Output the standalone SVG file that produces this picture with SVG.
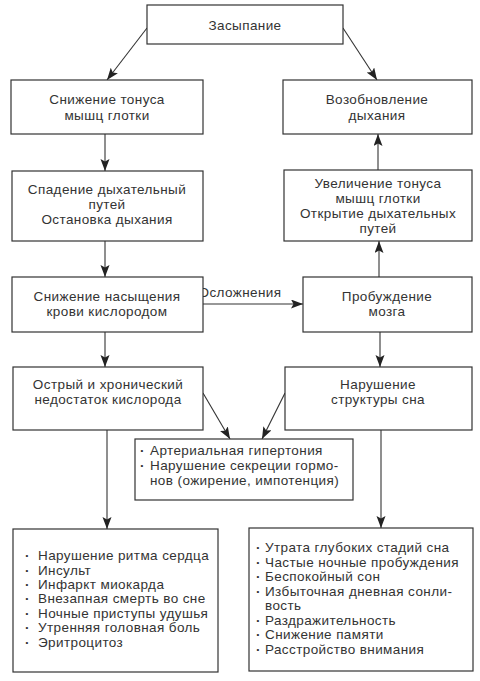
<svg xmlns="http://www.w3.org/2000/svg" width="480" height="681" viewBox="0 0 480 681">
<style>
.box{fill:#fff;stroke:#333;stroke-width:1.2}
.t{font-family:"Liberation Sans",Arial,sans-serif;font-size:13.5px;letter-spacing:0.4px;fill:#333}
.b{font-weight:bold}
.c{text-anchor:middle}
.ln{stroke:#333;stroke-width:1.1;fill:none;marker-end:url(#ah)}
</style>
<defs>
<marker id="ah" markerUnits="userSpaceOnUse" markerWidth="13" markerHeight="10" refX="12" refY="4.5" orient="auto">
<path d="M0,0 L12,4.5 L0,9 L2.5,4.5 z" fill="#222"/>
</marker>
</defs>
<rect width="480" height="681" fill="#fff"/>
<g id="connectors">
<line class="ln" x1="147" y1="28" x2="107" y2="80"/>
<line class="ln" x1="343" y1="28" x2="377" y2="80"/>
<line class="ln" x1="105" y1="134" x2="105" y2="171"/>
<line class="ln" x1="378" y1="170" x2="378" y2="134"/>
<line class="ln" x1="105" y1="241" x2="105" y2="277"/>
<line class="ln" x1="203" y1="304" x2="303" y2="304"/>
<line class="ln" x1="379" y1="277" x2="379" y2="241"/>
<line class="ln" x1="105" y1="332" x2="105" y2="367"/>
<line class="ln" x1="380" y1="332" x2="380" y2="367"/>
<line class="ln" x1="203" y1="393" x2="230" y2="439"/>
<line class="ln" x1="285" y1="393" x2="262" y2="439"/>
<line class="ln" x1="107" y1="430" x2="107" y2="529"/>
<line class="ln" x1="381" y1="430" x2="381" y2="528"/>
<text class="t c" x="240" y="297">Осложнения</text>
</g>
<g id="n1"><rect class="box" x="147" y="5" width="196" height="39"/><text class="t c" x="245" y="30">Засыпание</text></g>
<g id="n2"><rect class="box" x="11" y="80" width="192" height="54"/><text class="t c" x="107" y="104">Снижение тонуса</text><text class="t c" x="107" y="120">мышц глотки</text></g>
<g id="n3"><rect class="box" x="283" y="80" width="189" height="54"/><text class="t c" x="377" y="104">Возобновление</text><text class="t c" x="377" y="120">дыхания</text></g>
<g id="n4"><rect class="box" x="12" y="171" width="191" height="70"/><text class="t c" x="107" y="194">Спадение дыхательный</text><text class="t c" x="107" y="209">путей</text><text class="t c" x="107" y="224">Остановка дыхания</text></g>
<g id="n5"><rect class="box" x="284" y="170" width="188" height="71"/><text class="t c" x="378" y="188">Увеличение тонуса</text><text class="t c" x="378" y="203">мышц глотки</text><text class="t c" x="378" y="218">Открытие дыхательных</text><text class="t c" x="378" y="233">путей</text></g>
<g id="n6"><rect class="box" x="12" y="277" width="191" height="55"/><text class="t c" x="107" y="301">Снижение насыщения</text><text class="t c" x="107" y="316">крови кислородом</text></g>
<g id="n7"><rect class="box" x="303" y="277" width="169" height="55"/><text class="t c" x="387" y="301">Пробуждение</text><text class="t c" x="387" y="316">мозга</text></g>
<g id="n8"><rect class="box" x="13" y="367" width="190" height="63"/><text class="t c" x="108" y="389">Острый и хронический</text><text class="t c" x="108" y="404">недостаток кислорода</text></g>
<g id="n9"><rect class="box" x="285" y="367" width="187" height="63"/><text class="t c" x="378" y="389">Нарушение</text><text class="t c" x="378" y="404">структуры сна</text></g>
<g id="n10"><rect class="box" x="135" y="439" width="218" height="61"/>
<text class="t b" x="140" y="455">·</text><text class="t" x="150" y="455">Артериальная гипертония</text>
<text class="t b" x="140" y="470">·</text><text class="t" x="150" y="470">Нарушение секреции гормо-</text>
<text class="t" x="150" y="485">нов (ожирение, импотенция)</text></g>
<g id="n11"><rect class="box" x="13" y="529" width="205" height="143"/>
<text class="t b" x="25" y="560">·</text><text class="t" x="38" y="560">Нарушение ритма сердца</text>
<text class="t b" x="25" y="575">·</text><text class="t" x="38" y="575">Инсульт</text>
<text class="t b" x="25" y="589">·</text><text class="t" x="38" y="589">Инфаркт миокарда</text>
<text class="t b" x="25" y="603">·</text><text class="t" x="38" y="603">Внезапная смерть во сне</text>
<text class="t b" x="25" y="618">·</text><text class="t" x="38" y="618">Ночные приступы удушья</text>
<text class="t b" x="25" y="632">·</text><text class="t" x="38" y="632">Утренняя головная боль</text>
<text class="t b" x="25" y="647">·</text><text class="t" x="38" y="647">Эритроцитоз</text></g>
<g id="n12"><rect class="box" x="249" y="528" width="224" height="143"/>
<text class="t b" x="256" y="552">·</text><text class="t" x="265" y="552">Утрата глубоких стадий сна</text>
<text class="t b" x="256" y="567">·</text><text class="t" x="265" y="567">Частые ночные пробуждения</text>
<text class="t b" x="256" y="581">·</text><text class="t" x="265" y="581">Беспокойный сон</text>
<text class="t b" x="256" y="596">·</text><text class="t" x="265" y="596">Избыточная дневная сонли-</text>
<text class="t" x="265" y="610">вость</text>
<text class="t b" x="256" y="625">·</text><text class="t" x="265" y="625">Раздражительность</text>
<text class="t b" x="256" y="639">·</text><text class="t" x="265" y="639">Снижение памяти</text>
<text class="t b" x="256" y="654">·</text><text class="t" x="265" y="654">Расстройство внимания</text></g>
</svg>
